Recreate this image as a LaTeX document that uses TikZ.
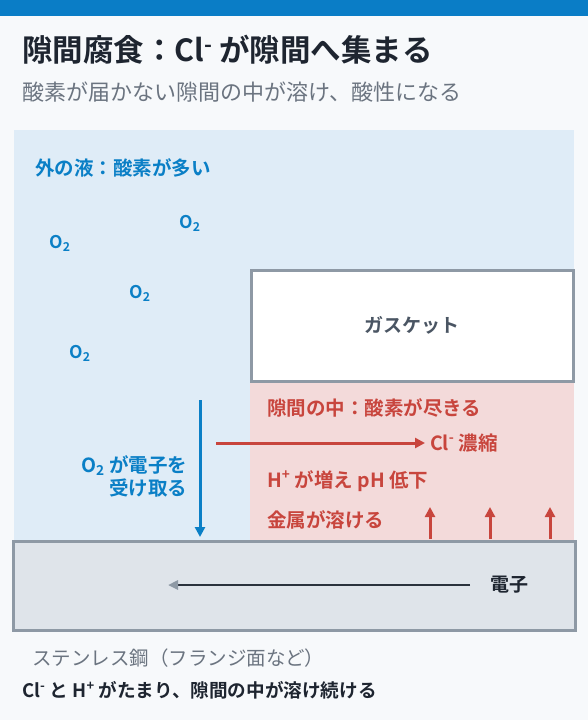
\documentclass[tikz,border=0pt]{standalone}
\usepackage{fontspec}
\setmainfont{Noto Sans CJK JP}[BoldFont={Noto Sans CJK JP Bold}]
\usetikzlibrary{arrows.meta}
\definecolor{bg}{HTML}{F7F9FB}
\definecolor{topbar}{HTML}{0A7DC6}
\definecolor{ink}{HTML}{1E2530}
\definecolor{subgray}{HTML}{6B7480}
\definecolor{oblue}{HTML}{0A7FC6}
\definecolor{outfill}{HTML}{DFECF7}
\definecolor{crevfill}{HTML}{F3DADA}
\definecolor{crevred}{HTML}{C8453D}
\definecolor{edgegray}{HTML}{8E99A5}
\definecolor{steelfill}{HTML}{DFE4EA}
\definecolor{gasktxt}{HTML}{4A5563}
\definecolor{arrdark}{HTML}{2A323D}
\newcommand\supm{\textsuperscript{-}}
\newcommand\supp{\textsuperscript{+}}
\newcommand\osub{O\textsubscript{2}}
\begin{document}
\begin{tikzpicture}[x=1pt,y=-1pt,
  every node/.style={inner sep=0pt,outer sep=0pt},
  panel/.style={draw=edgegray,line width=3pt},
  bluetxt/.style={text=oblue,font=\bfseries\fontsize{19.5}{23}\selectfont},
  redtxt/.style={text=crevred,font=\bfseries\fontsize{19.5}{23}\selectfont,anchor=west},
  oxy/.style={text=oblue,font=\bfseries\fontsize{17.5}{20}\selectfont},
  bluearrow/.style={draw=oblue,line width=3pt,-{Triangle[length=10pt,width=10pt]}},
  redarrow/.style={draw=crevred,line width=3pt,-{Triangle[length=10pt,width=10pt]}},
  darkarrow/.style={draw=arrdark,line width=2.8pt,-{Triangle[length=10pt,width=9pt,color=edgegray]}}
]
\useasboundingbox (0,0) rectangle (588,720);
\fill[bg] (0,0) rectangle (588,720);
\fill[topbar] (0,0) rectangle (588,16);

\node[anchor=west,text=ink,font=\bfseries\fontsize{30.5}{36}\selectfont] (title) at (22,50) {隙間腐食：Cl\supm{} が隙間へ集まる};
\node[anchor=west,text=subgray,font=\fontsize{22}{26}\selectfont] (subtitle) at (23,92) {酸素が届かない隙間の中が溶け、酸性になる};

% regions
\fill[outfill] (14,130) rectangle (574,540);
\node[fill=crevfill,minimum width=324pt,minimum height=158pt,anchor=north west] (crevice) at (250,382) {};
\node[panel,fill=white,minimum width=322pt,minimum height=111pt,anchor=north west] (gasket) at (251,270) {};
\node[text=gasktxt,font=\bfseries\fontsize{19}{22}\selectfont] (gtxt) at (gasket.center) {ガスケット};
\node[panel,fill=steelfill,minimum width=562pt,minimum height=89pt,anchor=north west] (steel) at (13,541) {};

% outside liquid
\node[bluetxt,anchor=west] (outlabel) at (35,168) {外の液：酸素が多い};
\node[oxy] (o2a) at (190,223) {\osub};
\node[oxy] (o2b) at (60,243) {\osub};
\node[oxy] (o2c) at (140,293) {\osub};
\node[oxy] (o2d) at (80,353) {\osub};

\coordinate (bstart) at (200,400);
\coordinate (bend) at (200,537);
\draw[bluearrow] (bstart) -- (bend);
\node[bluetxt,anchor=east,align=right] (accept) at (187,476) {\osub{} が電子を\\[0pt]受け取る};

% crevice
\node[redtxt] (crevlabel) at (267,408) {隙間の中：酸素が尽きる};
\node[redtxt] (clconc) at (430,443) {Cl\supm{} 濃縮};
\coordinate (rstart) at (216,443);
\draw[redarrow] (rstart) -- ([xshift=-5pt]clconc.west);
\node[redtxt] (hplus) at (267,481) {H\supp{} が増え pH 低下};
\node[redtxt] (dissolve) at (267,520) {金属が溶ける};
\foreach \x/\n in {430/u1,490/u2,550/u3}{
  \coordinate (\n s) at (\x,539);
  \coordinate (\n e) at (\x,507);
  \draw[redarrow] (\n s) -- (\n e);
}

% steel
\node[anchor=west,text=ink,font=\bfseries\fontsize{19}{22}\selectfont] (electron) at (490,585) {電子};
\coordinate (estart) at (470,585);
\coordinate (eend) at (168,585);
\draw[darkarrow] (estart) -- (eend);

\node[anchor=west,text=subgray,font=\fontsize{19.5}{23}\selectfont] (steellabel) at (32,658) {ステンレス鋼（フランジ面など）};
\node[anchor=west,text=ink,font=\bfseries\fontsize{18.6}{22}\selectfont] (summary) at (22,690) {Cl\supm{} と H\supp{} がたまり、隙間の中が溶け続ける};
\end{tikzpicture}
\end{document}
